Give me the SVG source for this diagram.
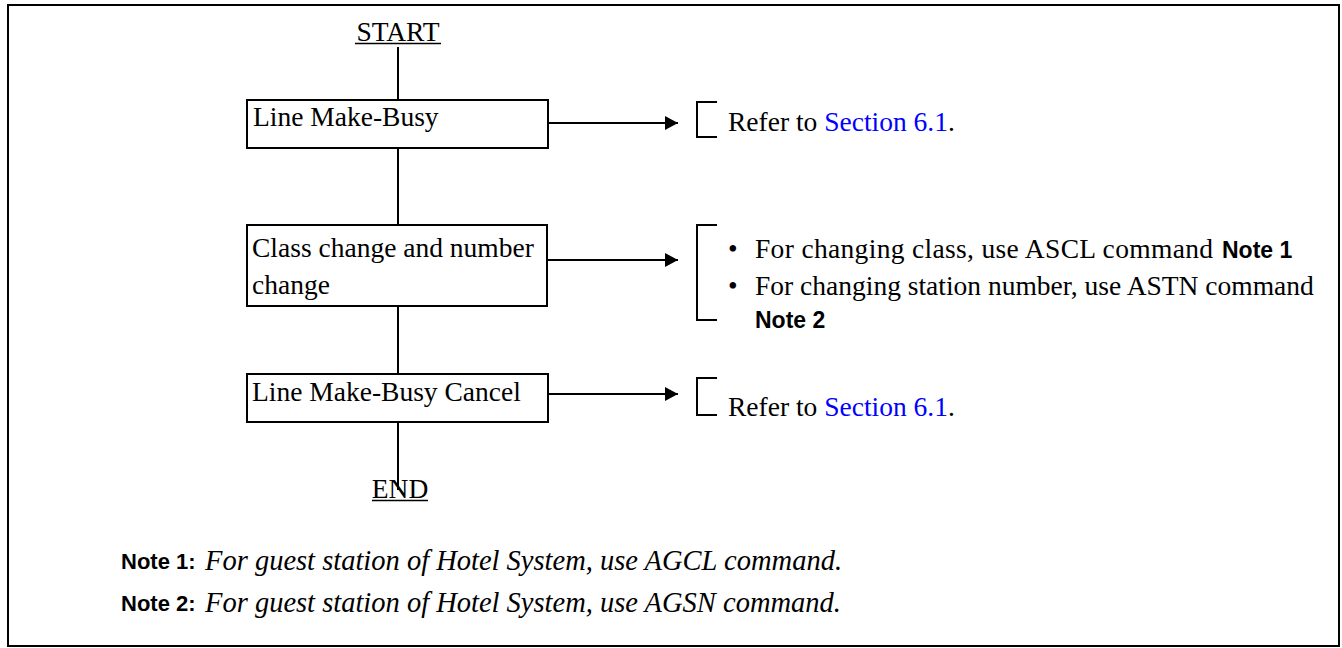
<svg xmlns="http://www.w3.org/2000/svg" width="1342" height="648" viewBox="0 0 1342 648">
<defs>
<style>
.t{font-family:"Liberation Serif","Times New Roman",serif;font-size:27.5px;fill:#000}
.i{font-family:"Liberation Serif","Times New Roman",serif;font-size:28.5px;font-style:italic;fill:#000}
.b{font-family:"Liberation Sans",Arial,sans-serif;font-weight:bold;font-size:23px;fill:#000}
.fb{font-family:"Liberation Sans",Arial,sans-serif;font-weight:bold;font-size:22px;fill:#000}
.lnk{fill:#0000ff}
.box{fill:#fff;stroke:#000;stroke-width:2}
.ln{stroke:#000;stroke-width:2;fill:none}
.br{stroke:#000;stroke-width:2;fill:none}
</style>
<marker id="ah" markerWidth="14" markerHeight="14" refX="13" refY="7" orient="auto" markerUnits="userSpaceOnUse">
<path d="M0,0 L13,7 L0,14 Z" fill="#000"/>
</marker>
</defs>
<rect x="8" y="5" width="1331" height="641" fill="#fff" stroke="#000" stroke-width="2"/>
<g id="connectors">
<line class="ln" x1="398" y1="47" x2="398" y2="100"/>
<line class="ln" x1="398" y1="148" x2="398" y2="225"/>
<line class="ln" x1="398" y1="306" x2="398" y2="374"/>
<line class="ln" x1="398" y1="422" x2="398" y2="490"/>
<line class="ln" x1="545" y1="123" x2="678" y2="123" marker-end="url(#ah)"/>
<line class="ln" x1="545" y1="260" x2="678" y2="260" marker-end="url(#ah)"/>
<line class="ln" x1="545" y1="394" x2="678" y2="394" marker-end="url(#ah)"/>
</g>
<g id="start">
<text class="t" x="398" y="41" text-anchor="middle">START</text>
<line x1="355" y1="43.5" x2="441" y2="43.5" stroke="#000" stroke-width="1.5"/>
</g>
<g id="node-make-busy">
<rect class="box" x="247" y="100" width="301" height="48"/>
<text class="t" x="253" y="126">Line Make-Busy</text>
</g>
<g id="node-class-change">
<rect class="box" x="247" y="225" width="300" height="81"/>
<text class="t" x="252" y="257">Class change and number</text>
<text class="t" x="252" y="294">change</text>
</g>
<g id="node-cancel">
<rect class="box" x="247" y="374" width="301" height="48"/>
<text class="t" x="252" y="401">Line Make-Busy Cancel</text>
</g>
<g id="end">
<text class="t" x="400" y="498" text-anchor="middle">END</text>
<line x1="372" y1="500.5" x2="428" y2="500.5" stroke="#000" stroke-width="1.5"/>
</g>
<g id="note-refer-1">
<path class="br" d="M717,102 H697 V137 H717"/>
<text class="t" x="728" y="131">Refer to <tspan class="lnk">Section 6.1</tspan>.</text>
</g>
<g id="note-class">
<path class="br" d="M717,225 H697 V320 H717"/>
<text class="t" x="728" y="258">•</text>
<text class="t" x="755" y="258" textLength="458" lengthAdjust="spacing">For changing class, use ASCL command</text>
<text class="b" x="1222" y="258">Note 1</text>
<text class="t" x="728" y="295">•</text>
<text class="t" x="755" y="295">For changing station number, use ASTN command</text>
<text class="b" x="755" y="328">Note 2</text>
</g>
<g id="note-refer-2">
<path class="br" d="M717,378 H697 V415 H717"/>
<text class="t" x="728" y="416">Refer to <tspan class="lnk">Section 6.1</tspan>.</text>
</g>
<g id="footnotes">
<text class="fb" x="121" y="569">Note 1:</text>
<text class="i" x="205" y="570">For guest station of Hotel System, use AGCL command.</text>
<text class="fb" x="121" y="611">Note 2:</text>
<text class="i" x="205" y="612">For guest station of Hotel System, use AGSN command.</text>
</g>
</svg>
